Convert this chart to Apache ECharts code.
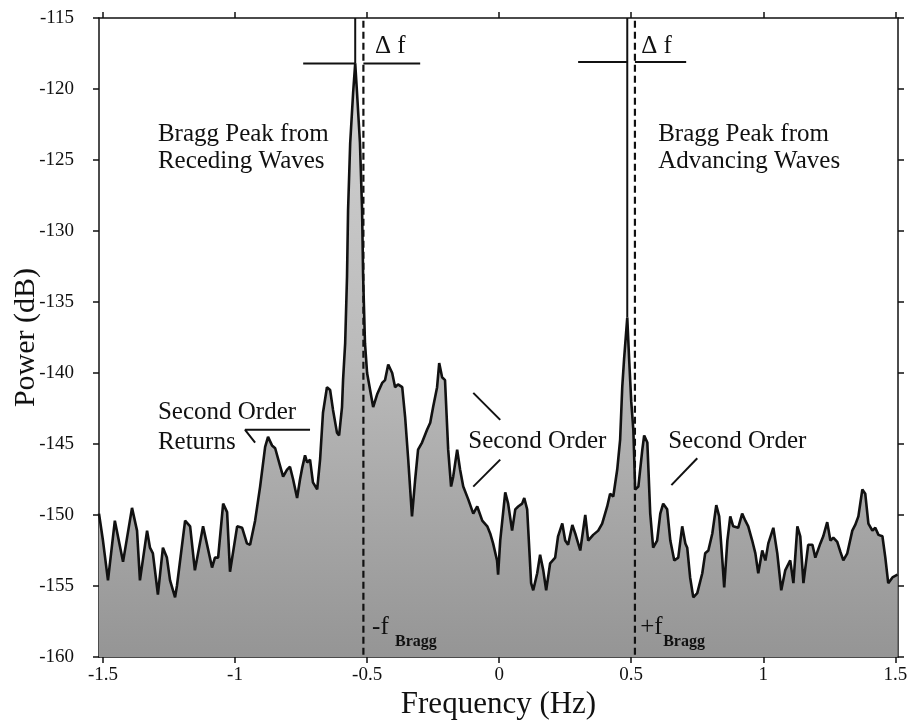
<!DOCTYPE html>
<html><head><meta charset="utf-8">
<script src="https://cdn.jsdelivr.net/npm/echarts@6/dist/echarts.min.js"></script>
<style>html,body{margin:0;padding:0;background:#fff}#c{width:907px;height:724px}</style>
</head><body><div id="c"></div>
<script>
// Spectrum (frequency in Hz, power in dB)
const freqHz = [-1.515,-1.500,-1.481,-1.455,-1.424,-1.390,-1.371,-1.360,-1.333,-1.322,-1.311,-1.292,-1.273,-1.258,-1.246,-1.227,-1.220,-1.189,-1.170,-1.152,-1.121,-1.087,-1.076,-1.064,-1.045,-1.030,-1.019,
-0.992,-0.973,-0.955,-0.943,-0.924,-0.905,-0.886,-0.875,-0.860,-0.848,-0.830,-0.818,-0.803,-0.792,-0.780,-0.765,-0.754,-0.746,-0.735,-0.727,-0.716,-0.705,-0.689,-0.678,-0.667,-0.652,-0.640,-0.629,-0.614,-0.606,-0.595,-0.591,
-0.583,-0.576,-0.572,-0.564,-0.553,-0.545,-0.538,-0.527,-0.519,-0.515,-0.508,-0.500,
-0.477,-0.462,-0.443,-0.432,-0.420,-0.405,-0.394,-0.383,-0.367,-0.356,-0.345,-0.330,-0.318,-0.307,-0.292,-0.273,-0.261,-0.250,-0.235,-0.227,-0.216,-0.205,-0.193,-0.182,-0.174,-0.159,-0.148,-0.136,-0.117,-0.098,-0.083,-0.064,-0.045,-0.034,-0.023,-0.008,-0.004,
0.004,0.023,0.034,0.049,0.061,0.072,0.087,0.095,0.106,0.121,0.129,0.144,0.155,0.167,0.178,0.193,0.212,0.223,0.239,0.250,0.261,0.277,0.288,0.307,0.326,0.337,0.356,0.375,0.390,0.409,0.420,0.432,0.447,0.458,
0.466,0.473,0.485,0.492,0.500,0.508,
0.515,0.527,0.542,0.549,0.561,0.572,0.583,0.598,0.610,0.621,0.636,0.648,0.663,0.678,0.693,0.705,0.712,0.723,0.735,0.750,0.769,0.780,0.792,0.807,0.822,0.833,0.845,0.852,0.864,0.875,0.886,0.905,0.920,0.932,0.943,0.958,0.970,0.981,0.996,
1.008,1.019,1.038,1.053,1.068,1.083,1.102,1.114,1.129,1.140,1.152,1.170,1.186,1.197,1.216,1.227,1.242,1.254,1.265,1.280,1.292,1.303,1.318,1.337,1.348,1.360,1.375,1.386,1.398,1.413,1.424,1.436,1.451,1.462,1.473,1.489,1.508];
const powerDb = [-149.9,-151.8,-154.6,-150.4,-153.3,-149.5,-151.1,-154.6,-151.1,-152.3,-152.7,-155.6,-152.3,-153.0,-154.6,-155.8,-155.0,-150.4,-150.8,-153.9,-150.8,-153.7,-153.0,-153.0,-149.2,-149.8,-154.0,
-150.8,-150.9,-152.0,-152.1,-150.4,-148.0,-145.2,-144.5,-145.1,-145.3,-146.5,-147.3,-146.8,-146.6,-147.5,-148.8,-147.5,-146.7,-145.8,-146.3,-146.1,-147.7,-148.2,-146.1,-142.8,-141.0,-141.2,-142.6,-144.2,-144.4,-142.4,-140.5,
-137.9,-133.2,-128.5,-123.8,-120.3,-118.2,-120.3,-123.8,-128.5,-133.2,-137.9,-140.0,
-142.4,-141.5,-140.7,-140.5,-139.4,-140.0,-141.0,-140.8,-141.0,-143.1,-145.9,-150.1,-147.5,-145.4,-144.9,-144.0,-143.5,-142.4,-141.0,-139.3,-140.3,-140.5,-145.4,-148.0,-147.3,-145.4,-146.8,-148.0,-148.9,-149.9,-149.4,-150.4,-150.8,-151.3,-152.0,-153.2,-154.2,
-151.8,-148.4,-149.2,-151.1,-149.6,-149.4,-149.2,-148.8,-149.6,-154.8,-155.3,-154.1,-152.8,-153.9,-155.3,-153.4,-153.0,-151.5,-150.6,-151.8,-152.1,-150.7,-151.3,-152.5,-150.0,-151.8,-151.4,-151.1,-150.6,-149.4,-148.5,-148.7,-146.8,-144.7,
-141.0,-139.0,-136.1,-139.0,-142.0,-144.0,
-148.2,-148.0,-145.4,-144.4,-144.9,-149.9,-152.3,-151.8,-149.9,-149.2,-149.6,-151.8,-153.2,-153.0,-150.8,-152.0,-152.3,-154.4,-155.8,-155.5,-154.1,-152.7,-152.5,-151.3,-149.3,-150.1,-153.2,-155.1,-151.8,-150.1,-150.8,-150.9,-149.9,-150.4,-150.8,-151.8,-152.7,-154.1,-152.5,
-153.2,-152.0,-150.9,-152.7,-155.3,-153.9,-153.2,-154.8,-150.8,-151.5,-154.8,-152.1,-152.1,-153.0,-152.0,-151.5,-150.5,-151.8,-151.6,-151.9,-152.6,-153.2,-152.7,-151.1,-150.7,-150.1,-148.2,-148.5,-150.6,-151.1,-150.9,-151.4,-151.5,-153.0,-154.8,-154.4,-154.2];

const xTicks = [-1.5, -1, -0.5, 0, 0.5, 1, 1.5];
const fBragg = 0.514;
const recedingPeak = [-0.545, -118.2];
const advancingPeak = [0.485, -136.1];

// annotation segments in data coordinates
const solidLines = [
  [[recedingPeak[0], -115], recedingPeak],
  [[advancingPeak[0], -115], advancingPeak],
  [[-0.742, -118.2], [recedingPeak[0], -118.2]],
  [[-fBragg, -118.2], [-0.299, -118.2]],
  [[0.299, -118.1], [advancingPeak[0], -118.1]],
  [[fBragg, -118.1], [0.708, -118.1]],
  [[-0.924, -144.9], [-0.962, -144.0], [-0.716, -144.0]],
  [[-0.098, -141.4], [0.004, -143.3]],
  [[-0.098, -148.0], [0.004, -146.1]],
  [[0.652, -147.9], [0.750, -146.0]]
];
const dashedLines = [
  [[-fBragg, -115.2], [-fBragg, -160]],
  [[fBragg, -115.2], [fBragg, -160]]
];
const texts = [
  {t: 'Δ f', at: [-0.47, -117.0]},
  {t: 'Δ f', at: [0.538, -117.0]},
  {t: 'Bragg Peak from', at: [-1.292, -123.2]},
  {t: 'Receding Waves', at: [-1.292, -125.1]},
  {t: 'Bragg Peak from', at: [0.602, -123.2]},
  {t: 'Advancing Waves', at: [0.602, -125.1]},
  {t: 'Second Order', at: [-1.292, -142.8]},
  {t: 'Returns', at: [-1.292, -144.9]},
  {t: 'Second Order', at: [-0.117, -144.8]},
  {t: 'Second Order', at: [0.640, -144.8]},
  {t: '-f', at: [-0.481, -157.9]},
  {t: '+f', at: [0.534, -157.9]}
];
const subTexts = [
  {t: 'Bragg', at: [-0.394, -158.9]},
  {t: 'Bragg', at: [0.621, -158.9]}
];

const SERIF = '"Liberation Serif", "DejaVu Serif", serif';
const chart = echarts.init(document.getElementById('c'), null, {renderer: 'canvas'});

const axisCommon = {
  axisLine: {show: true, onZero: false, lineStyle: {color: '#111', width: 1.5}},
  axisTick: {show: true, inside: false, length: 6, lineStyle: {color: '#111', width: 1.5}},
  splitLine: {show: false}
};

const series = [{
  type: 'line',
  data: freqHz.map((f, i) => [f, powerDb[i]]),
  symbol: 'none',
  lineStyle: {color: '#111', width: 2.6},
  areaStyle: {
    origin: 'start',
    opacity: 1,
    color: new echarts.graphic.LinearGradient(0, 0, 0, 1, [
      {offset: 0, color: '#d2d2d2'},
      {offset: 0.5, color: '#bababa'},
      {offset: 1, color: '#959595'}
    ])
  },
  z: 2
}];
solidLines.forEach(seg => series.push({
  type: 'line', data: seg, symbol: 'none', silent: true,
  lineStyle: {color: '#111', width: 2}, z: 5
}));
dashedLines.forEach(seg => series.push({
  type: 'line', data: seg, symbol: 'none', silent: true,
  lineStyle: {color: '#111', width: 2.2, type: [7, 4]}, z: 5
}));

chart.setOption({
  animation: false,
  backgroundColor: '#fff',
  grid: {left: 99, right: 9, top: 18, bottom: 67, containLabel: false, outerBoundsMode: 'none'},
  xAxis: [
    Object.assign({}, axisCommon, {
      type: 'value', position: 'bottom', min: -1.515, max: 1.51,
      axisTick: Object.assign({}, axisCommon.axisTick, {customValues: xTicks}),
      axisLabel: {customValues: xTicks, color: '#111', fontFamily: SERIF, fontSize: 19, margin: 9,
        formatter: v => String(Math.round(v * 10) / 10)},
      name: 'Frequency (Hz)', nameLocation: 'middle', nameGap: 32, nameMoveOverlap: false,
      nameTextStyle: {fontFamily: SERIF, fontSize: 31, color: '#111'}
    }),
    Object.assign({}, axisCommon, {
      type: 'value', position: 'top', min: -1.515, max: 1.51,
      axisTick: Object.assign({}, axisCommon.axisTick, {customValues: xTicks}),
      axisLabel: {show: false}
    })
  ],
  yAxis: [
    Object.assign({}, axisCommon, {
      type: 'value', position: 'left', min: -160, max: -115, interval: 5,
      axisLabel: {color: '#111', fontFamily: SERIF, fontSize: 19, margin: 25},
      name: 'Power (dB)', nameLocation: 'middle', nameGap: 58, nameMoveOverlap: false,
      nameTextStyle: {fontFamily: SERIF, fontSize: 30, color: '#111'}
    }),
    Object.assign({}, axisCommon, {
      type: 'value', position: 'right', min: -160, max: -115, interval: 5,
      axisLabel: {show: false}
    })
  ],
  series: series
});

const px = p => chart.convertToPixel({xAxisIndex: 0, yAxisIndex: 0}, p);
const graphics = [];
texts.forEach(o => {
  const p = px(o.at);
  graphics.push({type: 'text', x: p[0], y: p[1], z: 10, silent: true,
    style: {text: o.t, font: '25px ' + SERIF, fill: '#111', verticalAlign: 'middle'}});
});
subTexts.forEach(o => {
  const p = px(o.at);
  graphics.push({type: 'text', x: p[0], y: p[1], z: 10, silent: true,
    style: {text: o.t, font: 'bold 16px ' + SERIF, fill: '#111', verticalAlign: 'middle'}});
});
chart.setOption({graphic: graphics});
</script></body></html>
